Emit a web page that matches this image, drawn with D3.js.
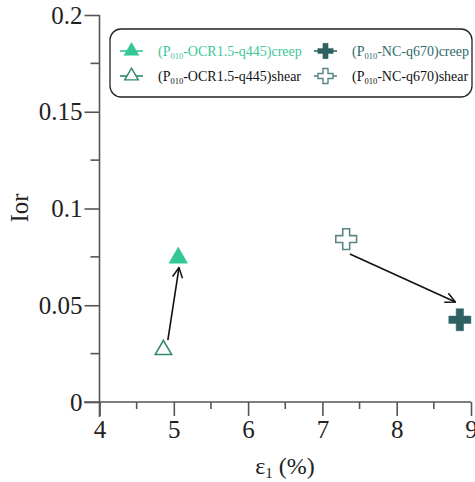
<!DOCTYPE html>
<html>
<head>
<meta charset="utf-8">
<script src="https://cdn.jsdelivr.net/npm/d3@7"></script>
<style>
  html, body { margin: 0; padding: 0; background: #fff; }
  svg text { font-family: "Liberation Serif", "Times New Roman", serif !important; }
</style>
</head>
<body>
<svg id="chart" width="475" height="482" font-family="Liberation Serif"></svg>
<script>
// ---- data ----
const seriesNames = ["OCR1.5-q445 creep", "OCR1.5-q445 shear", "NC-q670 creep", "NC-q670 shear"];
const strainValues = [5.06, 4.86, 8.85, 7.32];      // ε1 (%)
const iorValues    = [0.0745, 0.027, 0.0425, 0.0842]; // Ior
const legendLabels = [
  ["(P", "010", "-OCR1.5-q445)creep"],
  ["(P", "010", "-OCR1.5-q445)shear"],
  ["(P", "010", "-NC-q670)creep"],
  ["(P", "010", "-NC-q670)shear"]
];
// arrows (shear -> creep), in data units
const arrowFromX = [4.92, 7.37];
const arrowFromY = [0.032, 0.0765];
const arrowToX   = [5.07, 8.79];
const arrowToY   = [0.0695, 0.0517];
const xTicks = [4, 5, 6, 7, 8, 9];
const xMinorTicks = [4.5, 5.5, 6.5, 7.5, 8.5];
const yTicks = [0, 0.05, 0.1, 0.15, 0.2];
const yTickLabels = ["0", "0.05", "0.1", "0.15", "0.2"];
const yMinorTicks = [0.025, 0.075, 0.125, 0.175];

// ---- styles ----
const styles = [
  { shape: d3.symbolTriangle, fill: "#33c797", stroke: "#33c797", text: "#3cc79a", size: 150, lsize: 95 },
  { shape: d3.symbolTriangle, fill: "#fff", stroke: "#2d8a6c", text: "#111", size: 115, lsize: 80 },
  { shape: d3.symbolCross, fill: "#2e6262", stroke: "#2e6262", text: "#2e6a6a", size: 270, lsize: 130 },
  { shape: d3.symbolCross, fill: "#fff", stroke: "#5b8484", text: "#111", size: 240, lsize: 125 }
];
const FONT = "Liberation Serif";

const svg = d3.select("#chart");
const x = d3.scaleLinear().domain([4, 9]).range([99.5, 471]);
const y = d3.scaleLinear().domain([0, 0.2]).range([402, 15]);
const axisColor = "#555";

// axes
const xAxis = d3.axisBottom(x).tickValues(xTicks).tickSize(14).tickPadding(4).tickFormat(d3.format("d"));
const gx = svg.append("g").attr("transform", `translate(0,${y(0)})`).call(xAxis)
  .attr("font-family", FONT).attr("font-size", 25);
gx.select(".domain").remove();
gx.append("line").attr("x1", 84).attr("x2", x(9)).attr("stroke", axisColor).attr("stroke-width", 1.6);
gx.selectAll(".tick line").attr("stroke", axisColor).attr("stroke-width", 1.6);
gx.selectAll(".tick text").attr("fill", "#222");
gx.selectAll(".minor").data(xMinorTicks).enter().append("line")
  .attr("x1", d => x(d)).attr("x2", d => x(d)).attr("y1", 0).attr("y2", 7)
  .attr("stroke", axisColor).attr("stroke-width", 1.6);

const yAxis = d3.axisLeft(y).tickValues(yTicks).tickSize(15).tickPadding(2)
  .tickFormat((d, i) => yTickLabels[i]);
const gy = svg.append("g").attr("transform", `translate(${x(4)},0)`).call(yAxis)
  .attr("font-family", FONT).attr("font-size", 25);
gy.select(".domain").remove();
gy.append("line").attr("y1", y(0.2)).attr("y2", 417).attr("stroke", axisColor).attr("stroke-width", 1.6);
gy.selectAll(".tick line").attr("stroke", axisColor).attr("stroke-width", 1.6);
gy.selectAll(".tick text").attr("fill", "#222");
gy.selectAll(".minor").data(yMinorTicks).enter().append("line")
  .attr("y1", d => y(d)).attr("y2", d => y(d)).attr("x1", 0).attr("x2", -9)
  .attr("stroke", axisColor).attr("stroke-width", 1.6);

// axis titles
const xt = svg.append("text").attr("x", 285).attr("y", 474).attr("text-anchor", "middle")
  .attr("font-size", 24).attr("fill", "#222");
xt.append("tspan").text("ε");
xt.append("tspan").attr("font-size", 15).attr("dy", 4).text("1");
xt.append("tspan").attr("dy", -4).text(" (%)");

svg.append("text").attr("transform", "translate(28,208) rotate(-90)").attr("text-anchor", "middle")
  .attr("font-size", 25).attr("fill", "#222").text("Ior");

// arrows
const defs = svg.append("defs");
defs.append("marker").attr("id", "ah").attr("viewBox", "0 0 12 12").attr("refX", 11).attr("refY", 6)
  .attr("markerWidth", 12).attr("markerHeight", 12).attr("markerUnits", "userSpaceOnUse").attr("orient", "auto")
  .append("path").attr("d", "M1,1 L11,6 L1,11").attr("fill", "none").attr("stroke", "#111").attr("stroke-width", 1.5);
svg.selectAll(".arrow").data(arrowFromX).enter().append("line")
  .attr("x1", (d, i) => x(arrowFromX[i])).attr("y1", (d, i) => y(arrowFromY[i]))
  .attr("x2", (d, i) => x(arrowToX[i])).attr("y2", (d, i) => y(arrowToY[i]))
  .attr("stroke", "#111").attr("stroke-width", 1.6).attr("marker-end", "url(#ah)");

// points
svg.selectAll(".pt").data(strainValues).enter().append("path")
  .attr("transform", (d, i) => `translate(${x(strainValues[i])},${y(iorValues[i])})`)
  .attr("d", (d, i) => d3.symbol().type(styles[i].shape).size(styles[i].size)())
  .attr("fill", (d, i) => styles[i].fill)
  .attr("stroke", (d, i) => styles[i].stroke)
  .attr("stroke-width", (d, i) => styles[i].fill === "#fff" ? 1.6 : 0.5);

// legend
svg.append("rect").attr("x", 110).attr("y", 29).attr("width", 362).attr("height", 68)
  .attr("rx", 11).attr("ry", 11).attr("fill", "#fff").attr("stroke", "#222").attr("stroke-width", 1.3);
const legPos = [[120, 51], [120, 76], [314, 51], [314, 76]];
legendLabels.forEach((lab, i) => {
  const [lx, ly] = legPos[i];
  const g = svg.append("g");
  g.append("line").attr("x1", lx).attr("x2", lx + 23).attr("y1", ly).attr("y2", ly)
    .attr("stroke", styles[i].stroke).attr("stroke-width", 1.6);
  g.append("path").attr("transform", `translate(${lx + 11.5},${ly})`)
    .attr("d", d3.symbol().type(styles[i].shape).size(styles[i].lsize)())
    .attr("fill", styles[i].fill).attr("stroke", styles[i].stroke)
    .attr("stroke-width", styles[i].fill === "#fff" ? 1.4 : 0.5);
  const t = g.append("text").attr("x", lx + 38).attr("y", ly + 5).attr("font-size", 14).attr("fill", styles[i].text);
  t.append("tspan").text(lab[0]);
  t.append("tspan").attr("font-size", 8.5).attr("dy", 3).text(lab[1]);
  t.append("tspan").attr("dy", -3).text(lab[2]);
});
</script>
</body>
</html>
